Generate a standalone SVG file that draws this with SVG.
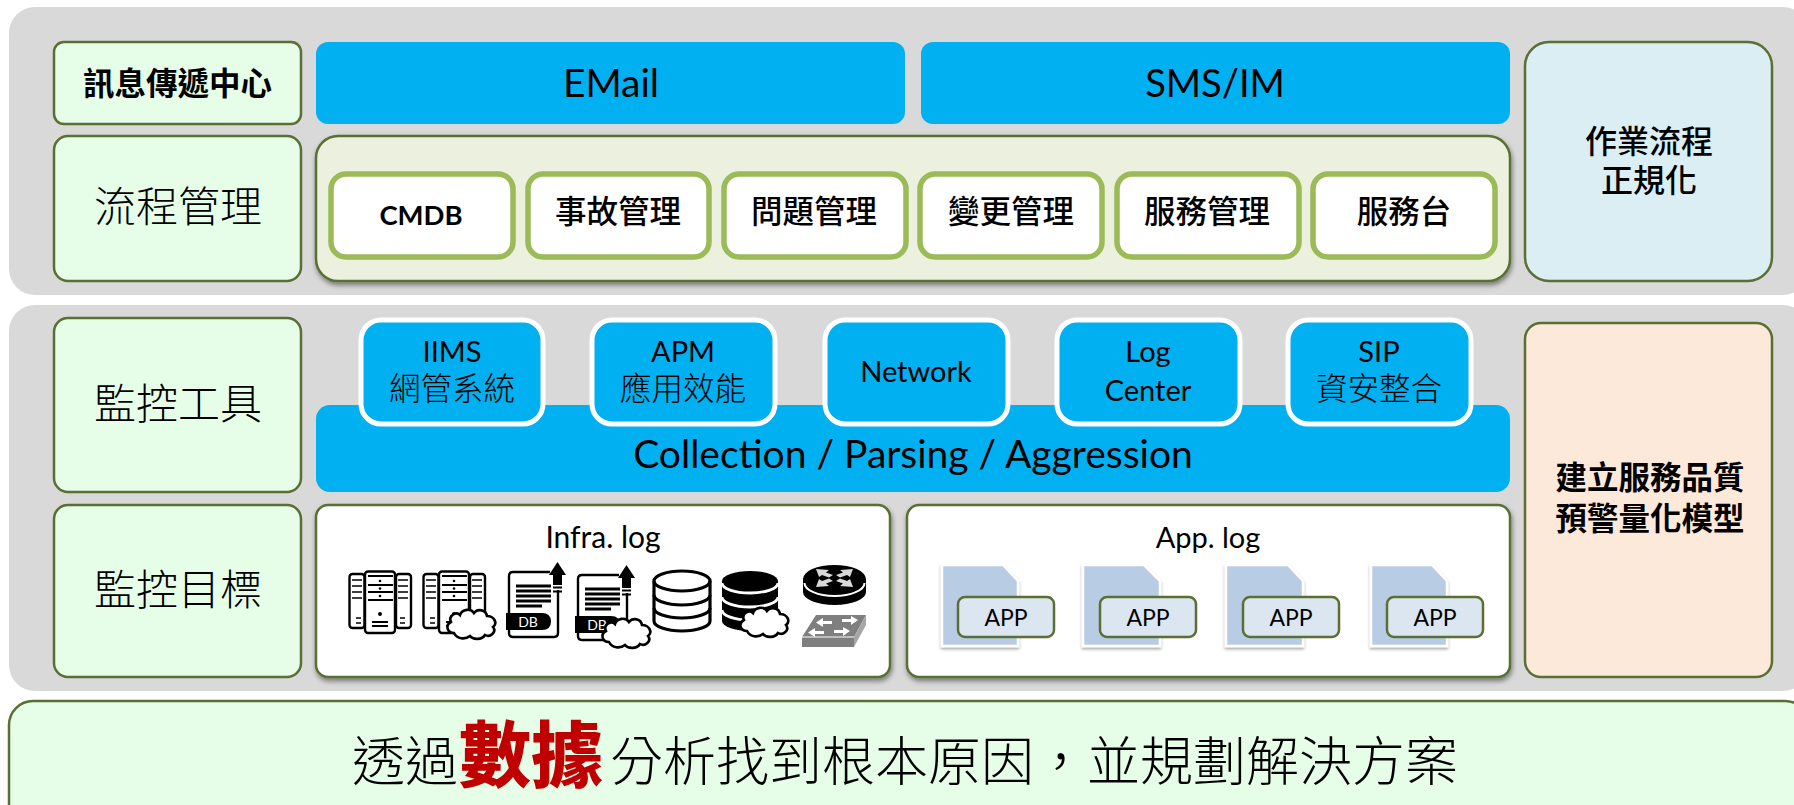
<svg xmlns="http://www.w3.org/2000/svg" width="1794" height="805" viewBox="0 0 1794 805">
<style>
text{font-family:"Lato","Noto Sans CJK TC",sans-serif;fill:#000;text-anchor:middle}
.cjk{font-family:"Noto Sans CJK TC",sans-serif}
.panel{fill:#d9d9d9}
.lab{fill:#e6fde7;stroke:#5a6f33;stroke-width:2.5}
.blue{fill:#00b0f0}
.tool{fill:#00b0f0;stroke:#fff;stroke-width:5}
.btn{fill:#fff;stroke:#9bbb59;stroke-width:5.5}
.wbox{fill:#fff;stroke:#5a6f33;stroke-width:2.5;filter:url(#sh)}
.big{font-size:42px;font-weight:300}
.mid{font-size:31.5px;font-weight:500}
.tc{font-size:31.5px;font-weight:300}
.tl{font-size:29px}
.line{fill:none;stroke:#000;stroke-width:2.4}
.k{fill:#000}
.w{fill:#fff}
.doc{fill:#b8cce4;stroke:#fff;stroke-width:2.5;filter:url(#sh2)}
.app{fill:#dce6f1;stroke:#5a6f33;stroke-width:2.5}
</style>
<defs>
<filter id="sh" x="-5%" y="-5%" width="110%" height="115%"><feDropShadow dx="1" dy="3" stdDeviation="2.5" flood-color="#000" flood-opacity=".45"/></filter>
<filter id="sh2" x="-10%" y="-10%" width="120%" height="120%"><feDropShadow dx="0" dy="2" stdDeviation="1.5" flood-color="#000" flood-opacity=".35"/></filter>
<path id="cloud" d="M7 25C0 25 -2 17 4 14C1 8 9 3 13 7C15 1 24 0 27 5C31 0 39 2 40 8C47 8 51 15 46 19C50 24 43 30 38 27C35 32 26 32 23 28C18 32 10 31 7 25Z" fill="#fff" stroke="#000" stroke-width="2.6"/>
<g id="server">
<rect class="line" x="349.500" y="574" width="15" height="54" rx="3"/>
<rect class="line" x="396" y="574" width="15" height="54" rx="3"/>
<rect x="365" y="571.500" width="30" height="61.500" rx="3" fill="#fff" stroke="#000" stroke-width="2.400"/>
<path d="M368 576h25M368 585h25M368 592h25M368 600h25M372 622h16M372 626h16" stroke="#000" stroke-width="2" fill="none"/>
<path d="M352 580h10M352 586h10M352 592h10M352 598h10M398 580h10M398 586h10M398 592h10M398 598h10M356 618h5M356 623h5M400 618h5M400 623h5" stroke="#000" stroke-width="1.700" fill="none"/>
<circle cx="380" cy="581" r="1.300"/><circle cx="380" cy="588.500" r="1.300"/><circle cx="380" cy="596" r="1.300"/><circle cx="380" cy="614" r="2"/>
</g>
<g id="dbdoc">
<path class="line" d="M550 572H513Q509 572 509 576V633Q509 637 513 637H554Q558 637 558 633V590"/>
<path d="M516 586h35M516 591h35M516 596h35M516 601h35M516 606h26" stroke="#000" stroke-width="2.800"/>
<path class="k" d="M549 575L557.500 562L566 575H562V585H553V575Z"/>
<path d="M553 587.500h9M553 591.500h9" stroke="#000" stroke-width="2"/>
<path class="k" d="M506 613H542Q551 613 551 621.500Q551 630 542 630H506Z"/>
</g>
</defs>

<g id="panel-top"><rect class="panel" x="9" y="7" width="1800" height="288" rx="26"/></g>
<g id="panel-mid"><rect class="panel" x="9" y="305" width="1800" height="386" rx="26"/></g>

<g id="node-msg"><rect class="lab" x="54" y="42" width="247" height="82" rx="10"/><text class="cjk" x="177.500" y="95" font-size="31.500" font-weight="700">訊息傳遞中心</text></g>
<g id="node-flow"><rect class="lab" x="54" y="136" width="247" height="145" rx="14"/><text class="big cjk" x="178" y="222">流程管理</text></g>
<g id="node-email"><rect class="blue" x="316" y="42" width="589" height="82" rx="12"/><text x="611" y="97" font-size="39">EMail</text></g>
<g id="node-sms"><rect class="blue" x="921" y="42" width="589" height="82" rx="12"/><text x="1215" y="97" font-size="38">SMS/IM</text></g>
<g id="node-process"><rect x="316" y="136" width="1194" height="145" rx="22" fill="#ebf1de" stroke="#5a6f33" stroke-width="2.500" style="filter:url(#sh)"/></g>
<g id="node-cmdb"><rect class="btn" x="331" y="174" width="182" height="83" rx="15"/><text x="421" y="225" font-size="27.500" font-weight="700">CMDB</text></g>
<g id="node-incident"><rect class="btn" x="528" y="174" width="181" height="83" rx="15"/><text class="mid cjk" x="618" y="223">事故管理</text></g>
<g id="node-problem"><rect class="btn" x="724" y="174" width="182" height="83" rx="15"/><text class="mid cjk" x="814" y="223">問題管理</text></g>
<g id="node-change"><rect class="btn" x="920" y="174" width="182" height="83" rx="15"/><text class="mid cjk" x="1011" y="223">變更管理</text></g>
<g id="node-service"><rect class="btn" x="1117" y="174" width="182" height="83" rx="15"/><text class="mid cjk" x="1207" y="223">服務管理</text></g>
<g id="node-desk"><rect class="btn" x="1313" y="174" width="182" height="83" rx="15"/><text class="mid cjk" x="1404" y="223">服務台</text></g>
<g id="node-sop"><rect x="1525" y="42" width="247" height="239" rx="24" fill="#daeef3" stroke="#5a6f33" stroke-width="2.500"/><text class="cjk" x="1649" y="153" font-size="32" font-weight="500">作業流程</text><text class="cjk" x="1649" y="192" font-size="32" font-weight="500">正規化</text></g>

<g id="node-tools"><rect class="lab" x="54" y="318" width="247" height="174" rx="14"/><text class="big cjk" x="178" y="419">監控工具</text></g>
<g id="node-targets"><rect class="lab" x="54" y="505" width="247" height="172" rx="14"/><text class="big cjk" x="178" y="605">監控目標</text></g>
<g id="node-collect"><rect class="blue" x="316" y="405" width="1194" height="87" rx="14"/><text x="913" y="468" font-size="39">Collection / Parsing / Aggression</text></g>
<g id="node-iims"><rect class="tool" x="361" y="320" width="182" height="104" rx="20"/><text class="tl" x="452" y="362">IIMS</text><text class="cjk tc" x="452" y="400">網管系統</text></g>
<g id="node-apm"><rect class="tool" x="592" y="320" width="183" height="104" rx="20"/><text class="tl" x="683" y="362">APM</text><text class="cjk tc" x="683" y="400">應用效能</text></g>
<g id="node-network"><rect class="tool" x="825" y="320" width="183" height="104" rx="20"/><text class="tl" x="916" y="382">Network</text></g>
<g id="node-logcenter"><rect class="tool" x="1057" y="320" width="183" height="104" rx="20"/><text class="tl" x="1148" y="362">Log</text><text class="tl" x="1148" y="401">Center</text></g>
<g id="node-sip"><rect class="tool" x="1288" y="320" width="183" height="104" rx="20"/><text class="tl" x="1379" y="362">SIP</text><text class="cjk tc" x="1379" y="400">資安整合</text></g>
<g id="node-quality"><rect x="1525" y="323" width="247" height="354" rx="16" fill="#fde9d9" stroke="#5a6f33" stroke-width="2.500"/><text class="cjk" x="1650" y="489" font-size="31.500" font-weight="700">建立服務品質</text><text class="cjk" x="1650" y="530" font-size="31.500" font-weight="700">預警量化模型</text></g>

<g id="node-infra">
<rect class="wbox" x="316" y="505" width="574" height="172" rx="12"/>
<text x="603" y="548" font-size="30">Infra. log</text>
<use href="#server"/>
<use href="#server" x="74"/>
<use href="#cloud" transform="translate(447 608)"/>
<use href="#dbdoc"/><text x="528" y="626.500" font-size="14" style="fill:#fff">DB</text>
<use href="#dbdoc" transform="translate(69 3)"/><text x="597" y="629.500" font-size="14" style="fill:#fff">DB</text>
<use href="#cloud" transform="translate(602 617)"/>
<g id="db-white" fill="#fff" stroke="#000" stroke-width="3.200">
<path d="M654 581A28 10 0 0 1 710 581V621A28 10 0 0 1 654 621Z"/>
<path fill="none" d="M654 581A28 10 0 0 0 710 581M654 595A28 10 0 0 0 710 595M654 608A28 10 0 0 0 710 608"/>
</g>
<g id="db-black">
<path class="k" d="M722 581A28 10 0 0 1 778 581V621A28 10 0 0 1 722 621Z"/>
<path fill="none" stroke="#fff" stroke-width="2.800" d="M722 583A28 10 0 0 0 778 583M722 597A28 10 0 0 0 778 597M722 610A28 10 0 0 0 778 610"/>
</g>
<use href="#cloud" transform="translate(740 606)"/>
<g id="router">
<path class="k" d="M803 579A31.500 14 0 0 1 866 579V592A31.500 13 0 0 1 803 592Z"/>
<path d="M804.500 583A30 13 0 0 0 864.500 583" fill="none" stroke="#fff" stroke-width="2"/>
<path fill="#d9d9d9" d="M816 569L829 570L826 572.500L833 575L829 577.500L822 575L819 577ZM853 569L840 570L843 572.500L836 575L840 577.500L847 575L850 577ZM816 587L829 586L826 583.500L833 581L829 578.500L822 581L819 579ZM853 587L840 586L843 583.500L836 581L840 578.500L847 581L850 579Z"/>
</g>
<g id="switch">
<path fill="#7f7f7f" d="M802 637L816 615H866L854 637V647H802Z"/>
<path fill="#a6a6a6" d="M854 637L866 615V625L854 647Z"/>
<path d="M802 637H854" stroke="#fff" stroke-width="1"/>
<path class="w" d="M816 622.500L823 618V621H832V624H823V627ZM858 620L851 616V619H842V622H851V625ZM808 632.500L815 628V631H824V634H815V637ZM850 631L843 627V630H834V633H843V636Z"/>
</g>
</g>

<g id="node-applog">
<rect class="wbox" x="907" y="505" width="603" height="172" rx="12"/>
<text x="1208" y="548" font-size="29">App. log</text>
<g id="app1"><path class="doc" d="M942 565H1003L1018 581V646H942Z"/><rect class="app" x="958" y="597" width="96" height="40" rx="7"/><text x="1006" y="626" font-size="23">APP</text></g>
<g id="app2"><path class="doc" d="M1083 565H1144L1160 581V646H1083Z"/><rect class="app" x="1100" y="597" width="96" height="40" rx="7"/><text x="1148" y="626" font-size="23">APP</text></g>
<g id="app3"><path class="doc" d="M1226 565H1288L1303 581V646H1226Z"/><rect class="app" x="1243" y="597" width="96" height="40" rx="7"/><text x="1291" y="626" font-size="23">APP</text></g>
<g id="app4"><path class="doc" d="M1371 565H1432L1447 581V646H1371Z"/><rect class="app" x="1387" y="597" width="96" height="40" rx="7"/><text x="1435" y="626" font-size="23">APP</text></g>
</g>

<g id="node-root"><rect class="lab" x="9" y="701" width="1800" height="130" rx="24"/>
<text class="cjk" x="352" y="781" font-size="53" font-weight="300" style="text-anchor:start">透過<tspan dx="1" font-size="72" font-weight="900" style="fill:#c00000">數據</tspan><tspan dx="7">分析找到根本原因，並規劃解決方案</tspan></text></g>
<g id="connectors"/>
</svg>
